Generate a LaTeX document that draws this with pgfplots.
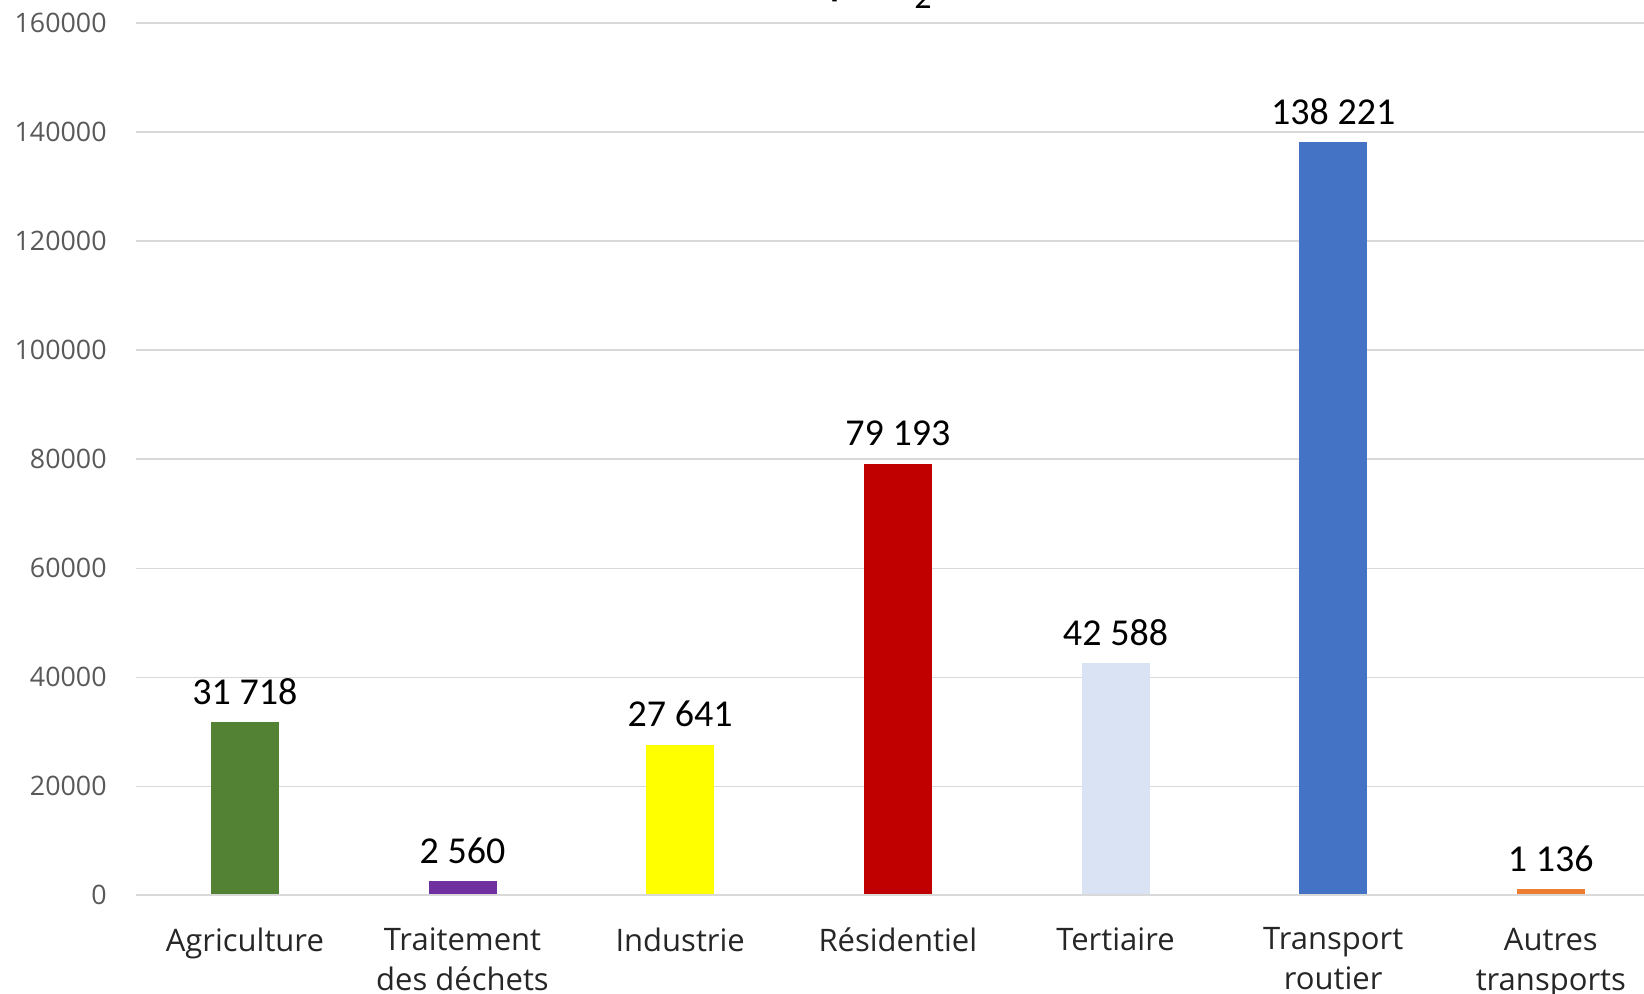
\documentclass[border=0pt]{standalone}
\usepackage{pgfplots}
\pgfplotsset{compat=1.18}
\usepackage{fontspec}
\setmainfont{Open Sans}
\newfontfamily\valfont{Carlito}

\definecolor{gridgray}{HTML}{D9D9D9}
\definecolor{ticktext}{HTML}{595959}
\definecolor{cattext}{HTML}{262626}
\definecolor{cAgri}{HTML}{548235}
\definecolor{cDechets}{HTML}{7030A0}
\definecolor{cIndus}{HTML}{FFFF00}
\definecolor{cResid}{HTML}{C00000}
\definecolor{cTert}{HTML}{DAE3F3}
\definecolor{cTransp}{HTML}{4472C4}
\definecolor{cAutres}{HTML}{ED7D31}

\begin{document}
\begin{tikzpicture}
\clip (0,0) rectangle (822pt,497pt);
\useasboundingbox (0,0) rectangle (822pt,497pt);
% chart title (mostly above the page)
\node[anchor=base east, inner sep=0pt, font=\valfont\fontsize{26}{30}\selectfont, text=black]
  at (466pt,500pt) {Émissions en teq CO{\fontsize{17}{20}\selectfont\raisebox{-0.42em}{2}}};
\begin{axis}[
  at={(68pt,49.3pt)}, anchor=south west,
  scale only axis,
  width=754pt, height=436.2pt,
  xmin=-0.5, xmax=6.428,
  ymin=0, ymax=160000,
  ytick={0,20000,...,160000},
  xtick={0,1,2,3,4,5,6},
  xticklabels={Agriculture, {Traitement\\des déchets}, Industrie, Résidentiel, Tertiaire, {Transport\\routier}, {Autres\\transports}},
  major tick length=0pt,
  axis line style={draw=none},
  axis x line*=bottom, axis y line*=left,
  ymajorgrids, grid style={gridgray, line width=0.7pt},
  /pgf/number format/assume math mode=true,
  scaled y ticks=false,
  yticklabel={\pgfmathprintnumber[fixed, precision=0, 1000 sep={}]{\tick}},
  yticklabel style={font=\fontsize{13.4}{16}\selectfont, text=ticktext, anchor=east, inner sep=0pt, xshift=-14.5pt},
  xticklabel style={font=\fontsize{15.5}{20}\selectfont, text=cattext, align=center, anchor=north, inner sep=0pt, yshift=-16pt},
  ybar, bar width=34pt, bar shift=0pt,
  nodes near coords,
  nodes near coords style={font=\valfont\fontsize{19}{22}\selectfont, text=black, anchor=south, inner sep=0pt, yshift=8.5pt,
    /pgf/number format/.cd, fixed, precision=0, 1000 sep={\hspace{0.23em}}},
  point meta=y,
  clip=false,
]
\addplot[fill=cAgri, draw=none] coordinates {(0,31718)};
\addplot[fill=cDechets, draw=none] coordinates {(1,2560)};
\addplot[fill=cIndus, draw=none] coordinates {(2,27641)};
\addplot[fill=cResid, draw=none] coordinates {(3,79193)};
\addplot[fill=cTert, draw=none] coordinates {(4,42588)};
\addplot[fill=cTransp, draw=none] coordinates {(5,138221)};
\addplot[fill=cAutres, draw=none] coordinates {(6,1136)};
\draw[gridgray, line width=0.9pt] (axis cs:-0.5,0) -- (axis cs:6.428,0);
\end{axis}
\end{tikzpicture}
\end{document}
